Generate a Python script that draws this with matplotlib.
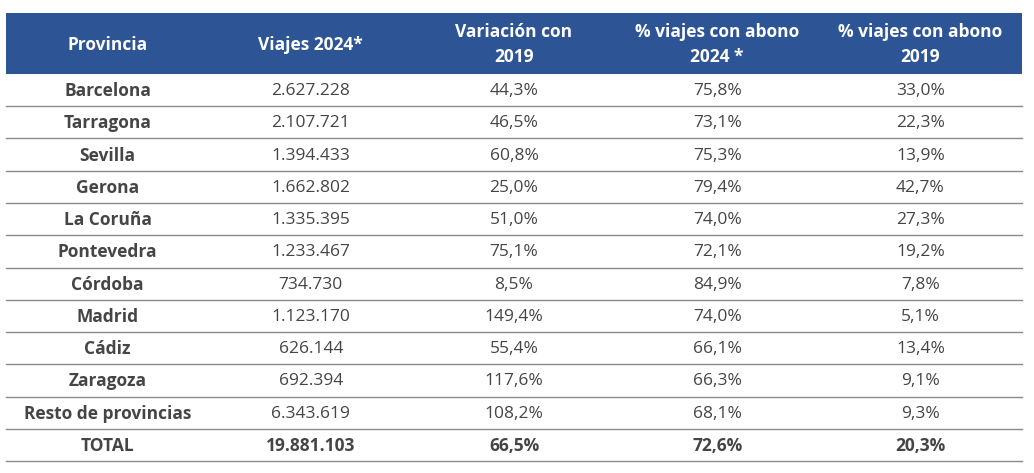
import matplotlib

matplotlib.use("Agg")
import matplotlib.pyplot as plt
from matplotlib.patches import Rectangle

headers = ["Provincia", "Viajes 2024*", "Variación con\n2019",
           "% viajes con abono\n2024 *", "% viajes con abono\n2019"]
provincias = ["Barcelona", "Tarragona", "Sevilla", "Gerona", "La Coruña",
              "Pontevedra", "Córdoba", "Madrid", "Cádiz", "Zaragoza",
              "Resto de provincias", "TOTAL"]
viajes_2024 = ["2.627.228", "2.107.721", "1.394.433", "1.662.802", "1.335.395",
               "1.233.467", "734.730", "1.123.170", "626.144", "692.394",
               "6.343.619", "19.881.103"]
variacion_2019 = ["44,3%", "46,5%", "60,8%", "25,0%", "51,0%", "75,1%", "8,5%",
                  "149,4%", "55,4%", "117,6%", "108,2%", "66,5%"]
abono_2024 = ["75,8%", "73,1%", "75,3%", "79,4%", "74,0%", "72,1%", "84,9%",
              "74,0%", "66,1%", "66,3%", "68,1%", "72,6%"]
abono_2019 = ["33,0%", "22,3%", "13,9%", "42,7%", "27,3%", "19,2%", "7,8%",
              "5,1%", "13,4%", "9,1%", "9,3%", "20,3%"]

plt.rcParams["font.family"] = ["Open Sans", "DejaVu Sans"]

W, H = 1034, 473
fig = plt.figure(figsize=(W / 100, H / 100), dpi=100)
ax = fig.add_axes([0, 0, 1, 1])
ax.set_xlim(0, W)
ax.set_ylim(H, 0)
ax.axis("off")

header_col = "#2D5495"
text_col = "#454545"
line_col = "#8a8a8a"

x0, x1 = 6, 1022
col_w = (x1 - x0) / 5
head_top, head_bot = 13, 74
row_h = (461 - head_bot) / len(provincias)

ax.add_patch(Rectangle((x0, head_top), x1 - x0, head_bot - head_top,
                       color=header_col, lw=0))
for j, h in enumerate(headers):
    ax.text(x0 + col_w * (j + 0.5), (head_top + head_bot) / 2 + 1, h,
            color="white", fontsize=12.5, fontweight="bold",
            ha="center", va="center", linespacing=1.45)

columns = [provincias, viajes_2024, variacion_2019, abono_2024, abono_2019]
for i in range(len(provincias)):
    yc = head_bot + row_h * (i + 0.5) + 1
    is_total = provincias[i] == "TOTAL"
    for j, col in enumerate(columns):
        bold = j == 0 or is_total
        ax.text(x0 + col_w * (j + 0.5), yc, col[i], color=text_col,
                fontsize=12.5, fontweight="bold" if bold else "normal",
                ha="center", va="center")
    ax.plot([x0, x1], [head_bot + row_h * (i + 1)] * 2, color=line_col, lw=1)

fig.savefig("out.png", dpi=100)
plt.close()
